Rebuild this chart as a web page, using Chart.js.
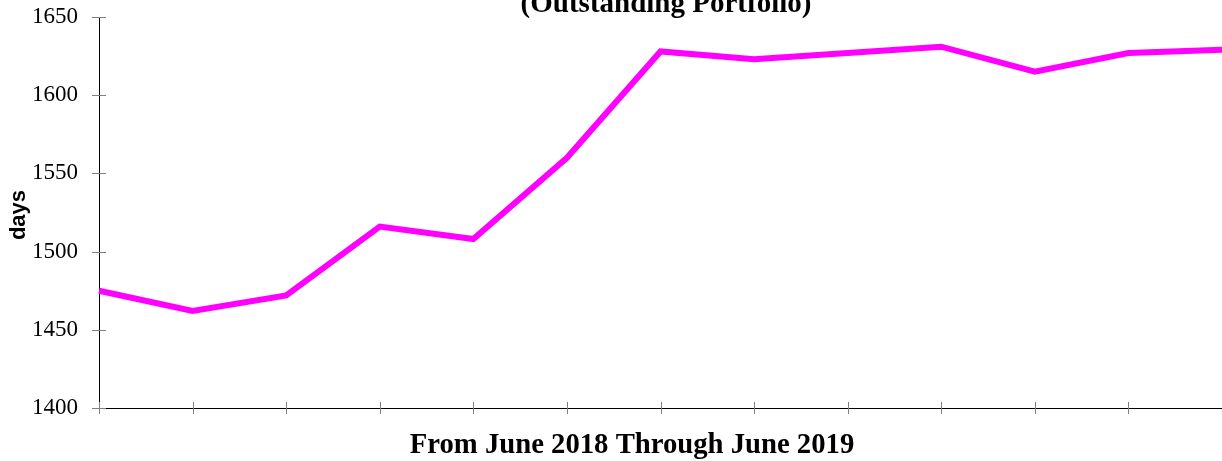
<!DOCTYPE html>
<html>
<head>
<meta charset="utf-8">
<script src="https://cdn.jsdelivr.net/npm/chart.js@4/dist/chart.umd.min.js"></script>
<style>
  html, body { margin: 0; padding: 0; background: #ffffff; }
  #wrap { width: 1222px; height: 461px; position: relative; }
</style>
</head>
<body>
<div id="wrap"><canvas id="c" width="1222" height="461"></canvas></div>
<script>
// ---- data ----
const categories = ["Jun 2018", "Jul 2018", "Aug 2018", "Sep 2018", "Oct 2018", "Nov 2018",
                    "Dec 2018", "Jan 2019", "Feb 2019", "Mar 2019", "Apr 2019", "May 2019", "Jun 2019"];
const daysValues = [1475, 1462, 1472, 1516, 1508, 1560, 1628, 1623, 1627, 1631, 1615, 1627, 1629];
const yTicks = [1400, 1450, 1500, 1550, 1600, 1650];
const chartTitle = "(Outstanding Portfolio)";
const xTitle = "From June 2018 Through June 2019";
const yTitle = "days";

const serif = '"Liberation Serif", "Times New Roman", serif';
const sans = '"Liberation Sans", Arial, sans-serif';

const decorations = {
  id: 'decorations',
  beforeDatasetsDraw(chart) {
    const ctx = chart.ctx;
    const xs = chart.scales.x, ys = chart.scales.y;
    ctx.save();
    ctx.strokeStyle = '#808080';
    ctx.lineWidth = 1;
    ctx.beginPath();
    yTicks.forEach(v => {
      const py = Math.round(ys.getPixelForValue(v)) + 0.5;
      ctx.moveTo(xs.left - 7, py);
      ctx.lineTo(xs.left + 7, py);
    });
    categories.forEach((c, i) => {
      const px = Math.round(xs.getPixelForValue(i)) + 0.5;
      ctx.moveTo(px, ys.bottom - 6);
      ctx.lineTo(px, ys.bottom + 6);
    });
    ctx.stroke();
    ctx.restore();
  },
  afterDraw(chart) {
    const ctx = chart.ctx;
    ctx.save();
    ctx.fillStyle = '#000000';
    ctx.textAlign = 'center';
    ctx.textBaseline = 'alphabetic';
    ctx.font = 'bold 29px ' + serif;
    ctx.fillText(chartTitle, 666, 12);
    ctx.font = 'bold 28.7px ' + serif;
    ctx.fillText(xTitle, 632, 453);
    ctx.translate(19, 215);
    ctx.rotate(-Math.PI / 2);
    ctx.font = 'bold 22px ' + sans;
    ctx.textBaseline = 'middle';
    ctx.fillText(yTitle, 0, 0);
    ctx.restore();
  }
};

new Chart(document.getElementById('c'), {
  type: 'line',
  data: {
    labels: categories,
    datasets: [{
      label: yTitle,
      data: daysValues,
      borderColor: '#FF00FF',
      backgroundColor: '#FF00FF',
      borderWidth: 6,
      pointRadius: 0,
      pointHoverRadius: 0,
      tension: 0,
      fill: false,
      clip: false
    }]
  },
  options: {
    responsive: false,
    devicePixelRatio: 1,
    animation: false,
    layout: { padding: { top: 17, right: 0, bottom: 0, left: 0 } },
    plugins: {
      legend: { display: false },
      tooltip: { enabled: false },
      title: { display: false }
    },
    scales: {
      x: {
        type: 'category',
        offset: false,
        grid: { display: false, drawTicks: false },
        border: { display: true, color: '#000000', width: 1 },
        ticks: { display: false },
        afterFit(scale) { scale.height = 53; scale.paddingLeft = 0; scale.paddingRight = 0; }
      },
      y: {
        min: 1400,
        max: 1650,
        afterBuildTicks(scale) { scale.ticks = yTicks.map(v => ({ value: v })); },
        grid: { display: false, drawTicks: false },
        border: { display: true, color: '#000000', width: 1 },
        ticks: {
          color: '#000000',
          font: { family: serif, size: 23 },
          padding: 21,
          callback: (v) => String(v)
        },
        afterFit(scale) { scale.width = 99; scale.paddingTop = 0; scale.paddingBottom = 0; }
      }
    }
  },
  plugins: [decorations]
});
</script>
</body>
</html>
